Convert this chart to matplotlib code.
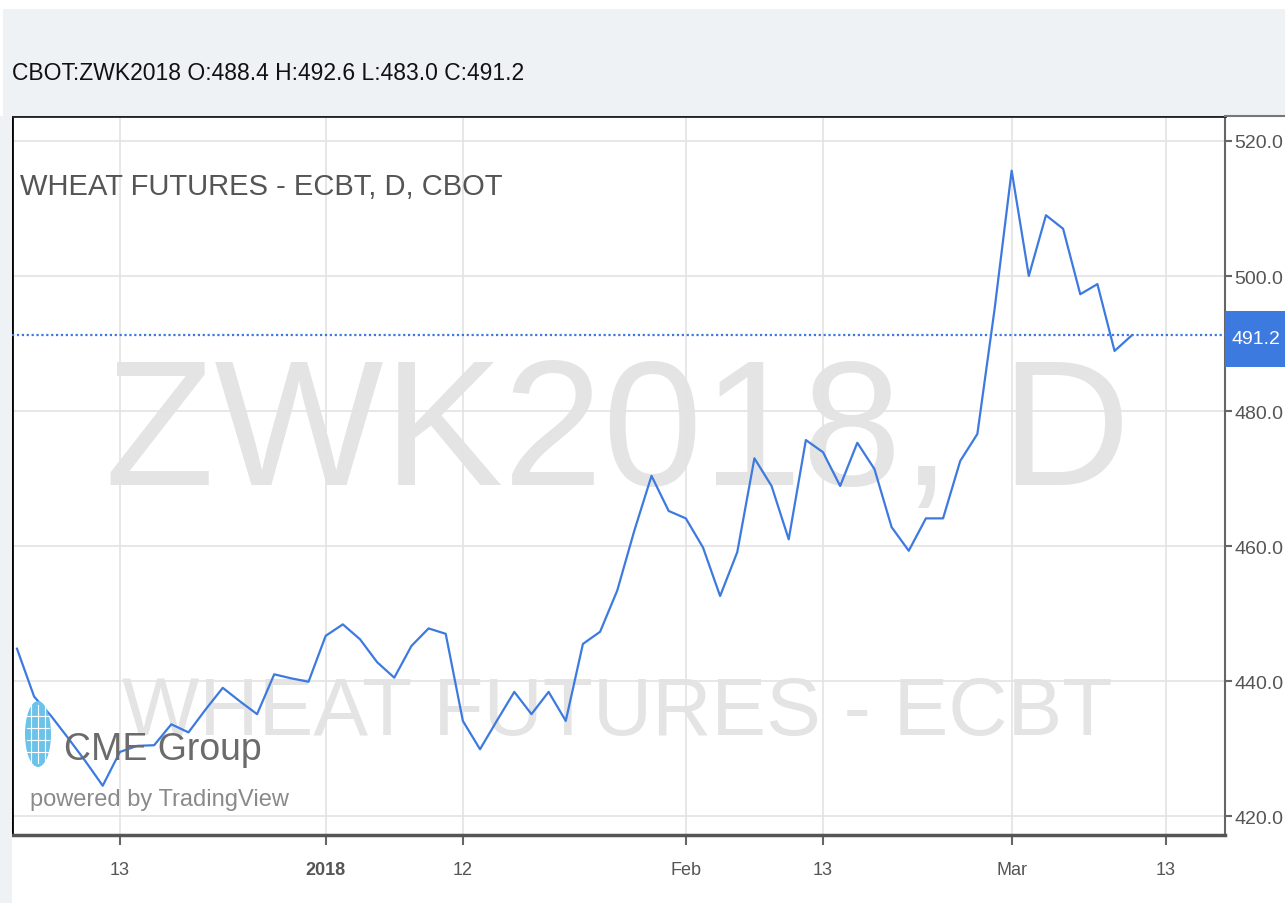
import numpy as np                      # arrays
import pandas as pd                     # trading calendar
import matplotlib
matplotlib.use("Agg")
import matplotlib.pyplot as plt         # plotting
from matplotlib.patches import Rectangle, Ellipse
from matplotlib.lines import Line2D

plt.rcParams['font.family'] = ['Liberation Sans', 'DejaVu Sans']

# daily closes, CBOT wheat May 2018 (ZWK2018)
holidays = ["2017-12-25", "2018-01-01", "2018-01-15", "2018-02-19"]
dates = pd.bdate_range("2017-12-05", "2018-03-12", freq="C", holidays=holidays)
closes = [444.8, 437.7, 434.8, 431.5, 428.1, 424.5, 429.5, 430.4, 430.5, 433.6,
          432.4, 435.8, 439.0, 437.0, 435.1, 441.0, 440.4, 439.9, 446.7, 448.4,
          446.2, 442.8, 440.5, 445.2, 447.8, 447.0, 434.1, 429.9, 434.2, 438.4,
          435.1, 438.4, 434.1, 445.5, 447.3, 453.4, 462.3, 470.4, 465.2, 464.1,
          459.8, 452.6, 459.1, 473.0, 468.9, 461.0, 475.7, 473.9, 468.9, 475.3,
          471.4, 462.8, 459.3, 464.1, 464.1, 472.6, 476.6, 495.0, 515.6, 500.0,
          509.0, 507.0, 497.3, 498.8, 488.9, 491.2]
last_bar = {"O": 488.4, "H": 492.6, "L": 483.0, "C": 491.2}

# x tick labels (Mar 13 is past the last bar)
tick_dates = ["2017-12-13", "2018-01-02", "2018-01-12", "2018-02-01", "2018-02-13", "2018-03-01", "2018-03-13"]
tick_labels = ["13", "2018", "12", "Feb", "13", "Mar", "13"]
price_ticks = [420, 440, 460, 480, 500, 520]

W, H = 1285, 904
def fx(px): return px / W          # pixel -> figure fraction
def fy(py): return 1 - py / H

blue = "#3d7ae0"
grey_txt = "#555555"

fig = plt.figure(figsize=(W / 100, H / 100), dpi=100, facecolor="white")

# light header band and left strip
fig.patches.append(Rectangle((fx(3), fy(117)), 1, fy(10) - fy(117), transform=fig.transFigure,
                             facecolor="#eff2f5", edgecolor="none", zorder=0))
fig.patches.append(Rectangle((0, 0), fx(12), fy(117), transform=fig.transFigure,
                             facecolor="#eff2f5", edgecolor="none", zorder=0))

ax = fig.add_axes([fx(12), fy(836), fx(1225) - fx(12), fy(117) - fy(836)])
ax.set_facecolor("white")

# bar index positions (TradingView spaces bars evenly)
idx = np.arange(len(closes))
date_pos = {d.strftime("%Y-%m-%d"): i for i, d in enumerate(dates)}
tick_pos = [date_pos.get(d, len(dates) + 1) for d in tick_dates]

# big watermarks behind everything
ax.text(0.499, 0.488, "ZWK2018, D", transform=ax.transAxes, ha="center", va="baseline",
        fontsize=129, color="#e4e4e4", zorder=0)
ax.text(0.499, 0.1405, "WHEAT FUTURES - ECBT", transform=ax.transAxes, ha="center", va="baseline",
        fontsize=59, color="#e4e4e4", zorder=0)

ax.plot(idx, closes, color=blue, lw=1.6, zorder=5)
ax.axhline(last_bar["C"], color=blue, lw=1.6, ls=(0, (1, 1.2)), zorder=4, clip_on=False)

ax.set_xlim(-0.29, 70.44)
ax.set_ylim(417.2, 523.7)

ax.set_xticks(tick_pos)
ax.set_xticklabels(tick_labels)
ax.set_yticks(price_ticks)
ax.set_yticklabels([f"{p:.1f}" for p in price_ticks])
ax.yaxis.tick_right()
ax.tick_params(axis="y", length=5, width=1.5, color="#666666", labelsize=14, labelcolor=grey_txt, pad=2)
ax.tick_params(axis="x", length=7, width=1.5, color="#666666", labelsize=13, labelcolor=grey_txt, pad=12)
for lab in ax.get_xticklabels():
    if lab.get_text() == "2018":
        lab.set_fontweight("bold")

ax.grid(True, color="#e3e3e3", lw=1.2, zorder=1)
ax.set_axisbelow(True)

ax.spines["left"].set_color("black")
ax.spines["left"].set_linewidth(2)
ax.spines["top"].set_color("#222222")
ax.spines["top"].set_linewidth(2)
ax.spines["bottom"].set_color("#555555")
ax.spines["bottom"].set_linewidth(2.5)
ax.spines["right"].set_color("#666666")
ax.spines["right"].set_linewidth(1.5)

# top border carries on over the price scale
fig.lines.append(Line2D([fx(1225), 1], [fy(117), fy(117)], transform=fig.transFigure,
                        color="#777777", lw=1.5))

# current price label on the scale
fig.patches.append(Rectangle((fx(1225), fy(368)), fx(1285) - fx(1225), fy(312) - fy(368),
                             transform=fig.transFigure, facecolor=blue, edgecolor="none", zorder=3))
fig.text(fx(1256), fy(340), f"{last_bar['C']:.1f}", ha="center", va="center",
         fontsize=14, color="white", zorder=4)

# header and chart title
fig.text(fx(12), fy(80), "CBOT:ZWK2018 O:{O:.1f} H:{H:.1f} L:{L:.1f} C:{C:.1f}".format(**last_bar),
         ha="left", va="baseline", fontsize=16.5, color="#111111")
fig.text(fx(20), fy(195), "WHEAT FUTURES - ECBT, D, CBOT", ha="left", va="baseline",
         fontsize=21, color=grey_txt, zorder=6)

# CME Group logo (globe + wordmark)
globe = Ellipse((fx(38), fy(735)), fx(26), fy(702) - fy(768), transform=fig.transFigure,
                facecolor="#6cc3ea", edgecolor="none", zorder=2)
fig.patches.append(globe)
for dx in (-7, 0, 7):
    fig.lines.append(Line2D([fx(38 + dx), fx(38 + dx)], [fy(706), fy(764)], transform=fig.transFigure,
                            color="white", lw=0.8, zorder=3))
for dy in (-18, -6, 6, 18):
    fig.lines.append(Line2D([fx(27), fx(49)], [fy(735 + dy), fy(735 + dy)], transform=fig.transFigure,
                            color="white", lw=0.8, zorder=3))
fig.text(fx(64), fy(760), "CME Group", ha="left", va="baseline", fontsize=27, color="#6b6b6b", zorder=2)
fig.text(fx(30), fy(806), "powered by TradingView", ha="left", va="baseline", fontsize=17,
         color="#8a8a8a", zorder=2)

fig.savefig("out.png", dpi=100, facecolor=fig.get_facecolor())
